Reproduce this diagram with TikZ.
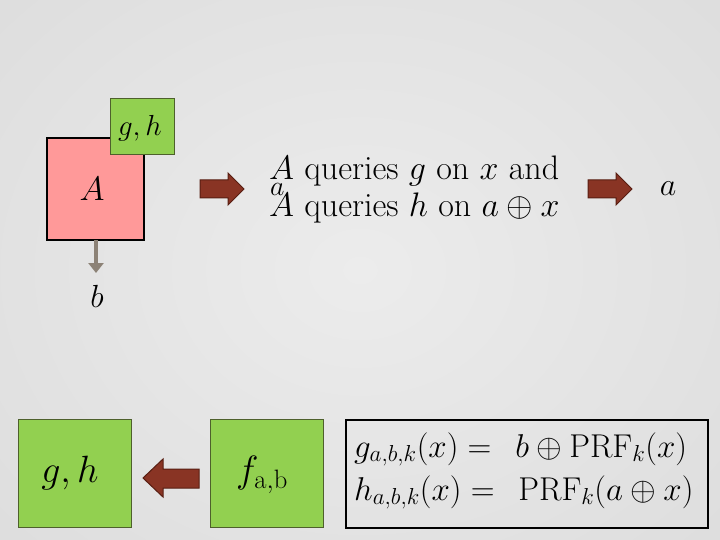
\documentclass[tikz,border=0pt]{standalone}
\usepackage{fix-cm}
\usepackage{amsmath}
\usepackage{fontspec}
\usetikzlibrary{arrows.meta}
\definecolor{bgin}{RGB}{236,236,236}
\definecolor{bgout}{RGB}{222,222,222}
\definecolor{pinkA}{RGB}{255,153,153}
\definecolor{greenB}{RGB}{146,208,80}
\definecolor{greenE}{RGB}{78,96,44}
\definecolor{brownF}{RGB}{137,52,36}
\definecolor{brownE}{RGB}{88,30,18}
\definecolor{grayarr}{RGB}{140,130,118}
\newcommand{\bigsz}{\fontsize{34}{38}\selectfont}
\tikzset{
  pinkbox/.style={draw=black, line width=1.2pt, fill=pinkA, inner sep=0pt},
  greenbox/.style={draw=greenE, line width=0.8pt, fill=greenB, inner sep=0pt},
  blockarrow/.style={fill=brownF, draw=brownE, line width=1pt, line join=miter},
  lbl/.style={inner sep=0pt, font=\bigsz},
  formula/.style={inner sep=0pt, anchor=base west, font=\fontsize{33}{38}\selectfont},
}
\begin{document}
\begin{tikzpicture}[x=1pt,y=-1pt]
\useasboundingbox (0,0) rectangle (720,540);
\shade[inner color=bgin, outer color=bgout] (-120,-120) rectangle (840,660);

% top-left assembly
\node[pinkbox, minimum width=97pt, minimum height=102pt] (A) at (95.5,189) {};
\node[lbl, font=\fontsize{34}{40}\selectfont] (Alab) at (92,189) {$A$};
\node[greenbox, minimum width=64pt, minimum height=56pt] (gh) at (142,126) {};
\node[lbl, font=\fontsize{29}{34}\selectfont] (ghlab) at (140,128) {$g,h$};
\coordinate (bt) at (96,273);
\draw[grayarr, line width=4pt, -{Triangle[length=10pt,width=15pt]}] (96,240) -- (bt);
\node[lbl, font=\fontsize{32}{38}\selectfont] (b) at (97,296) {$b$};

% first block arrow
\draw[blockarrow] (200,180) -- (228,180) -- (228,173) -- (244,189) -- (228,205) -- (228,198) -- (200,198) -- cycle;

% description text
\node[lbl, anchor=base west, font=\fontsize{28}{32}\selectfont] (astray) at (270,196) {$a$};
\node[lbl, anchor=base west] (l1) at (269,180) {$A$ queries $g$ on $x$ and};
\node[lbl, anchor=base west] (l2) at (269,217) {$A$ queries $h$ on $a \oplus x$};

% second block arrow
\draw[blockarrow] (588,180) -- (616,180) -- (616,173) -- (632,189) -- (616,205) -- (616,198) -- (588,198) -- cycle;
\node[lbl, font=\fontsize{32}{38}\selectfont] (a) at (668,189) {$a$};

% bottom row
\node[greenbox, minimum width=113pt, minimum height=108pt] (G) at (74.5,473) {};
\node[lbl, font=\fontsize{38}{44}\selectfont] (Glab) at (70,473) {$g,h$};
\node[greenbox, minimum width=113pt, minimum height=108pt] (F) at (266.5,473) {};
\node[lbl, font=\fontsize{38}{44}\selectfont] (Flab) at (262,475) {$f_{\mathrm{a,b}}$};
\draw[blockarrow] (199,469) -- (163,469) -- (163,459) -- (143,478) -- (163,497) -- (163,488) -- (199,488) -- cycle;

\node[draw=black, line width=1.2pt, minimum width=362pt, minimum height=108pt, inner sep=0pt] (fbox) at (527,474) {};
\node[formula] (f1) at (354,457) {$g_{a,b,k}(x) =\;\, b \oplus \mathrm{PRF}_k(x)$};
\node[formula] (f2) at (354,500) {$h_{a,b,k}(x) =\;\, \mathrm{PRF}_k(a \oplus x)$};
\end{tikzpicture}
\end{document}
